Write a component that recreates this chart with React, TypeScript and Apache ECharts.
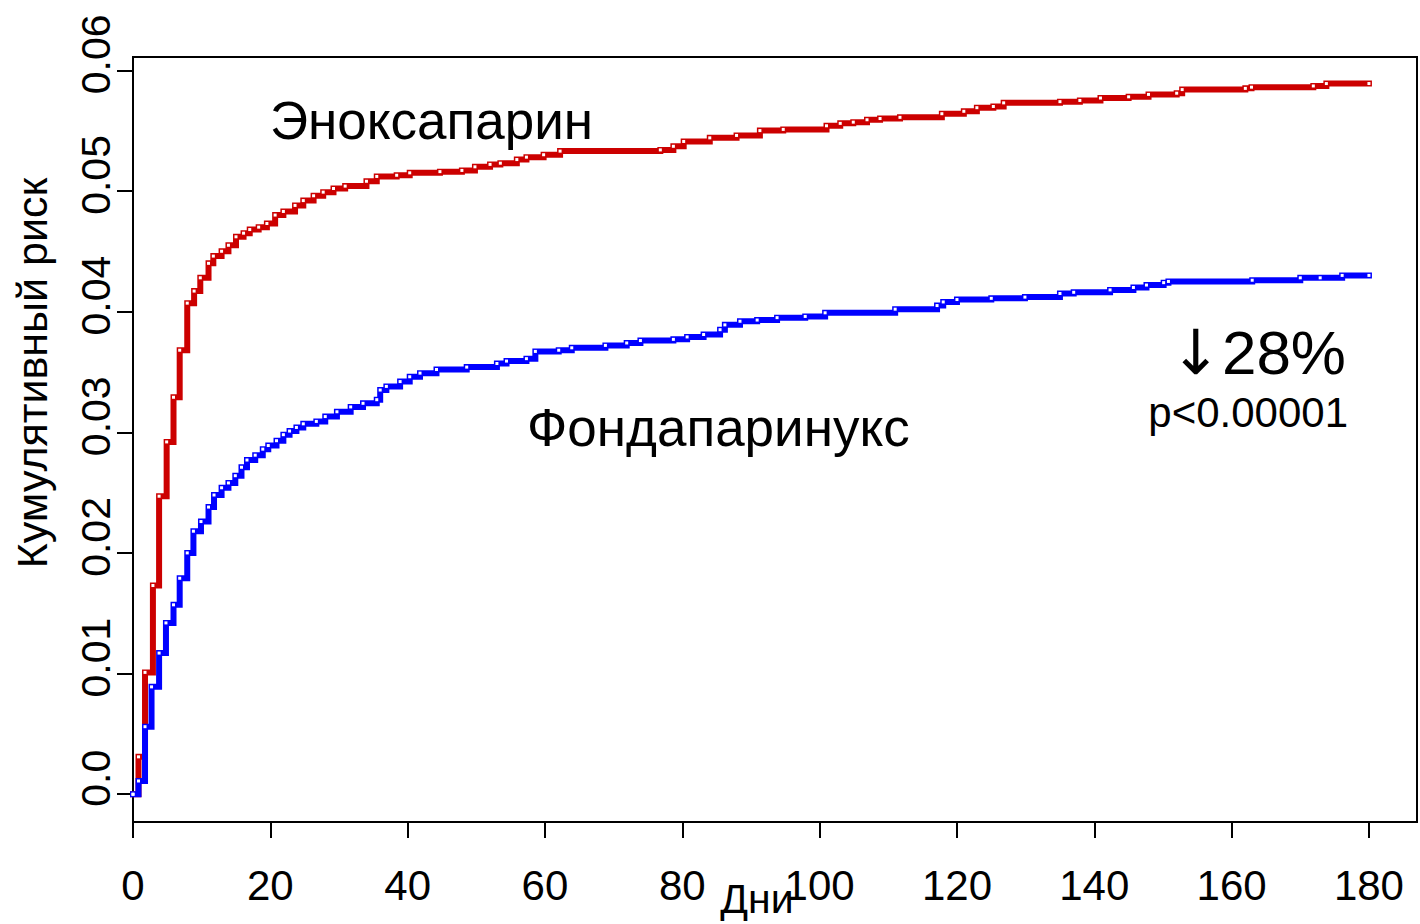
import React, { useEffect, useRef } from "react";
import * as echarts from "echarts";

// Enoxaparin (red) cumulative risk, step points (day, risk)
const enoxDays = [0, 0.8, 1.75, 2.9, 3.8, 4.9, 5.9, 6.8, 7.9, 8.9, 9.8, 11.0, 11.7, 12.9, 13.9, 15.0, 16.1, 17.0, 18.3, 19.5, 20.7, 21.9, 23.6, 24.8, 26.3, 27.7, 29.2, 30.9, 34.0, 35.5, 38.4, 40.3, 44.7, 47.9, 49.8, 52.0, 53.5, 55.9, 57.3, 59.8, 62.2, 76.8, 78.7, 80.2, 84.0, 87.9, 91.3, 94.7, 101.0, 103.0, 104.9, 106.9, 108.8, 111.7, 117.8, 121.0, 122.9, 125.3, 126.8, 135.0, 137.9, 140.9, 145.0, 147.9, 152.0, 152.8, 162.0, 162.9, 171.9, 173.8, 180];
const enoxRisk = [0, 0.0031, 0.0101, 0.0173, 0.0247, 0.0292, 0.0329, 0.0368, 0.0407, 0.0417, 0.0428, 0.044, 0.0446, 0.045, 0.0455, 0.0462, 0.0465, 0.0468, 0.047, 0.0473, 0.048, 0.0483, 0.0488, 0.0492, 0.0496, 0.0499, 0.0502, 0.0504, 0.0508, 0.0512, 0.0513, 0.0515, 0.0516, 0.0517, 0.052, 0.0522, 0.0523, 0.0526, 0.0528, 0.053, 0.0533, 0.0534, 0.0537, 0.0541, 0.0544, 0.0546, 0.055, 0.0551, 0.0554, 0.0556, 0.0557, 0.0559, 0.056, 0.0561, 0.0564, 0.0566, 0.0569, 0.057, 0.0573, 0.0574, 0.0575, 0.0577, 0.0578, 0.058, 0.0581, 0.0584, 0.0585, 0.0586, 0.0587, 0.0589, 0.0589];

// Fondaparinux (blue) cumulative risk, step points (day, risk)
const fondaDays = [0, 0.8, 1.75, 2.7, 3.8, 4.8, 5.9, 6.8, 7.9, 8.8, 9.9, 11.0, 11.8, 12.9, 13.9, 14.9, 15.8, 16.6, 17.8, 18.9, 19.7, 20.9, 21.9, 22.8, 23.8, 24.8, 26.7, 28.0, 29.7, 31.7, 33.5, 35.5, 36.0, 36.9, 38.9, 40.3, 41.8, 44.2, 48.6, 53.0, 54.4, 57.3, 58.6, 62.0, 63.9, 68.8, 71.9, 73.9, 78.7, 80.7, 83.1, 85.5, 86.2, 88.4, 90.9, 93.8, 97.9, 100.8, 111.0, 117.1, 118.0, 120.0, 125.0, 129.9, 135.0, 137.0, 142.3, 145.7, 147.6, 150.1, 150.8, 163.0, 170.0, 172.9, 176.1, 180];
const fondaRisk = [0, 0.0011, 0.0056, 0.0089, 0.0117, 0.0142, 0.0157, 0.0179, 0.02, 0.0218, 0.0226, 0.0238, 0.0248, 0.0254, 0.0258, 0.0264, 0.0271, 0.0277, 0.0281, 0.0286, 0.0289, 0.0293, 0.0298, 0.0301, 0.0304, 0.0307, 0.0309, 0.0313, 0.0317, 0.0321, 0.0324, 0.0327, 0.0335, 0.0338, 0.0342, 0.0346, 0.0349, 0.0352, 0.0354, 0.0357, 0.0359, 0.0361, 0.0367, 0.0368, 0.037, 0.0372, 0.0374, 0.0376, 0.0377, 0.0379, 0.0381, 0.0385, 0.0389, 0.0392, 0.0393, 0.0395, 0.0396, 0.0399, 0.0402, 0.0405, 0.0408, 0.041, 0.0411, 0.0412, 0.0415, 0.0416, 0.0418, 0.042, 0.0422, 0.0424, 0.0425, 0.0426, 0.0428, 0.0428, 0.043, 0.043];

const xTicks = [0, 20, 40, 60, 80, 100, 120, 140, 160, 180];
const yTicks = [0, 0.01, 0.02, 0.03, 0.04, 0.05, 0.06];
const yTickLabels = ["0.0", "0.01", "0.02", "0.03", "0.04", "0.05", "0.06"];

const seriesNames = ["Эноксапарин", "Фондапаринукс"];
const effectArrow = "↓";
const effectValue = "28%";
const pLabel = "p<0.00001";
const xName = "Дни";
const yName = "Кумулятивный риск";

const FONT = "'Liberation Sans', Arial, Helvetica, sans-serif";

export default function App() {
  const ref = useRef<HTMLDivElement>(null);
  useEffect(() => {
    if (!ref.current) return;
    const chart = echarts.init(ref.current, null, { renderer: "svg" });
    const enox = enoxDays.map((d, i) => [d, enoxRisk[i]]);
    const fonda = fondaDays.map((d, i) => [d, fondaRisk[i]]);
    const mk = (name: string, data: number[][], color: string) => ({
      name,
      type: "line",
      step: "end",
      data,
      lineStyle: { color, width: 6, cap: "square", join: "miter" },
      itemStyle: { color: "#ffffff", borderWidth: 0 },
      symbol: "rect",
      symbolSize: 3,
      showSymbol: true,
      z: 3,
    });
    chart.setOption({
      animation: false,
      textStyle: { fontFamily: FONT },
      grid: {
        left: 133,
        top: 57,
        right: 3,
        bottom: 102,
        show: true,
        borderColor: "#000",
        borderWidth: 2,
        backgroundColor: "transparent",
      },
      xAxis: {
        type: "value",
        min: 0,
        max: 187,
        splitLine: { show: false },
        axisLine: { show: false, onZero: false },
        axisTick: {
          show: true,
          inside: false,
          customValues: xTicks,
          length: 16,
          lineStyle: { color: "#000", width: 2 },
        },
        axisLabel: {
          customValues: xTicks,
          color: "#000",
          fontSize: 42,
          fontFamily: FONT,
          margin: 42,
        },
      },
      yAxis: {
        type: "value",
        min: -0.0023,
        max: 0.0611,
        splitLine: { show: false },
        axisLine: { show: false, onZero: false },
        axisTick: {
          show: true,
          inside: false,
          customValues: yTicks,
          length: 16,
          lineStyle: { color: "#000", width: 2 },
        },
        axisLabel: {
          customValues: yTicks,
          rotate: 90,
          color: "#000",
          fontSize: 41,
          fontFamily: FONT,
          margin: 17,
          padding: [0, 0, 0, 32],
          formatter: (v: number) => {
            const i = yTicks.findIndex((t) => Math.abs(t - v) < 1e-9);
            return i >= 0 ? yTickLabels[i] : "";
          },
        },
      },
      series: [mk(seriesNames[0], enox, "#cc0000"), mk(seriesNames[1], fonda, "#0000ff")],
      graphic: [
        {
          type: "text",
          x: 270,
          y: 120,
          style: { text: seriesNames[0], fill: "#000", font: `53px ${FONT}`, textAlign: "left", textVerticalAlign: "middle" },
        },
        {
          type: "text",
          x: 527,
          y: 427,
          style: { text: seriesNames[1], fill: "#000", font: `53px ${FONT}`, textAlign: "left", textVerticalAlign: "middle" },
        },
        {
          type: "text",
          x: 1346,
          y: 352,
          style: {
            text: `{a|${effectArrow}}{b|${effectValue}}`,
            fill: "#000",
            textAlign: "right",
            textVerticalAlign: "middle",
            rich: {
              a: { fontSize: 62, lineHeight: 56, fontFamily: "'DejaVu Sans', sans-serif", fill: "#000", verticalAlign: "middle" },
              b: { fontSize: 62, lineHeight: 56, fontFamily: FONT, fill: "#000", verticalAlign: "middle" },
            },
          },
        },
        {
          type: "text",
          x: 1348,
          y: 412,
          style: { text: pLabel, fill: "#000", font: `42px ${FONT}`, textAlign: "right", textVerticalAlign: "middle" },
        },
        {
          type: "text",
          x: 757,
          y: 899,
          style: { text: xName, fill: "#000", font: `41px ${FONT}`, textAlign: "center", textVerticalAlign: "middle" },
        },
        {
          type: "text",
          x: 32,
          y: 373,
          rotation: Math.PI / 2,
          style: { text: yName, fill: "#000", font: `43px ${FONT}`, textAlign: "center", textVerticalAlign: "middle" },
        },
      ],
    });
    return () => chart.dispose();
  }, []);
  return <div ref={ref} style={{ position: "absolute", left: 0, top: 0, width: 1420, height: 924 }} />;
}
